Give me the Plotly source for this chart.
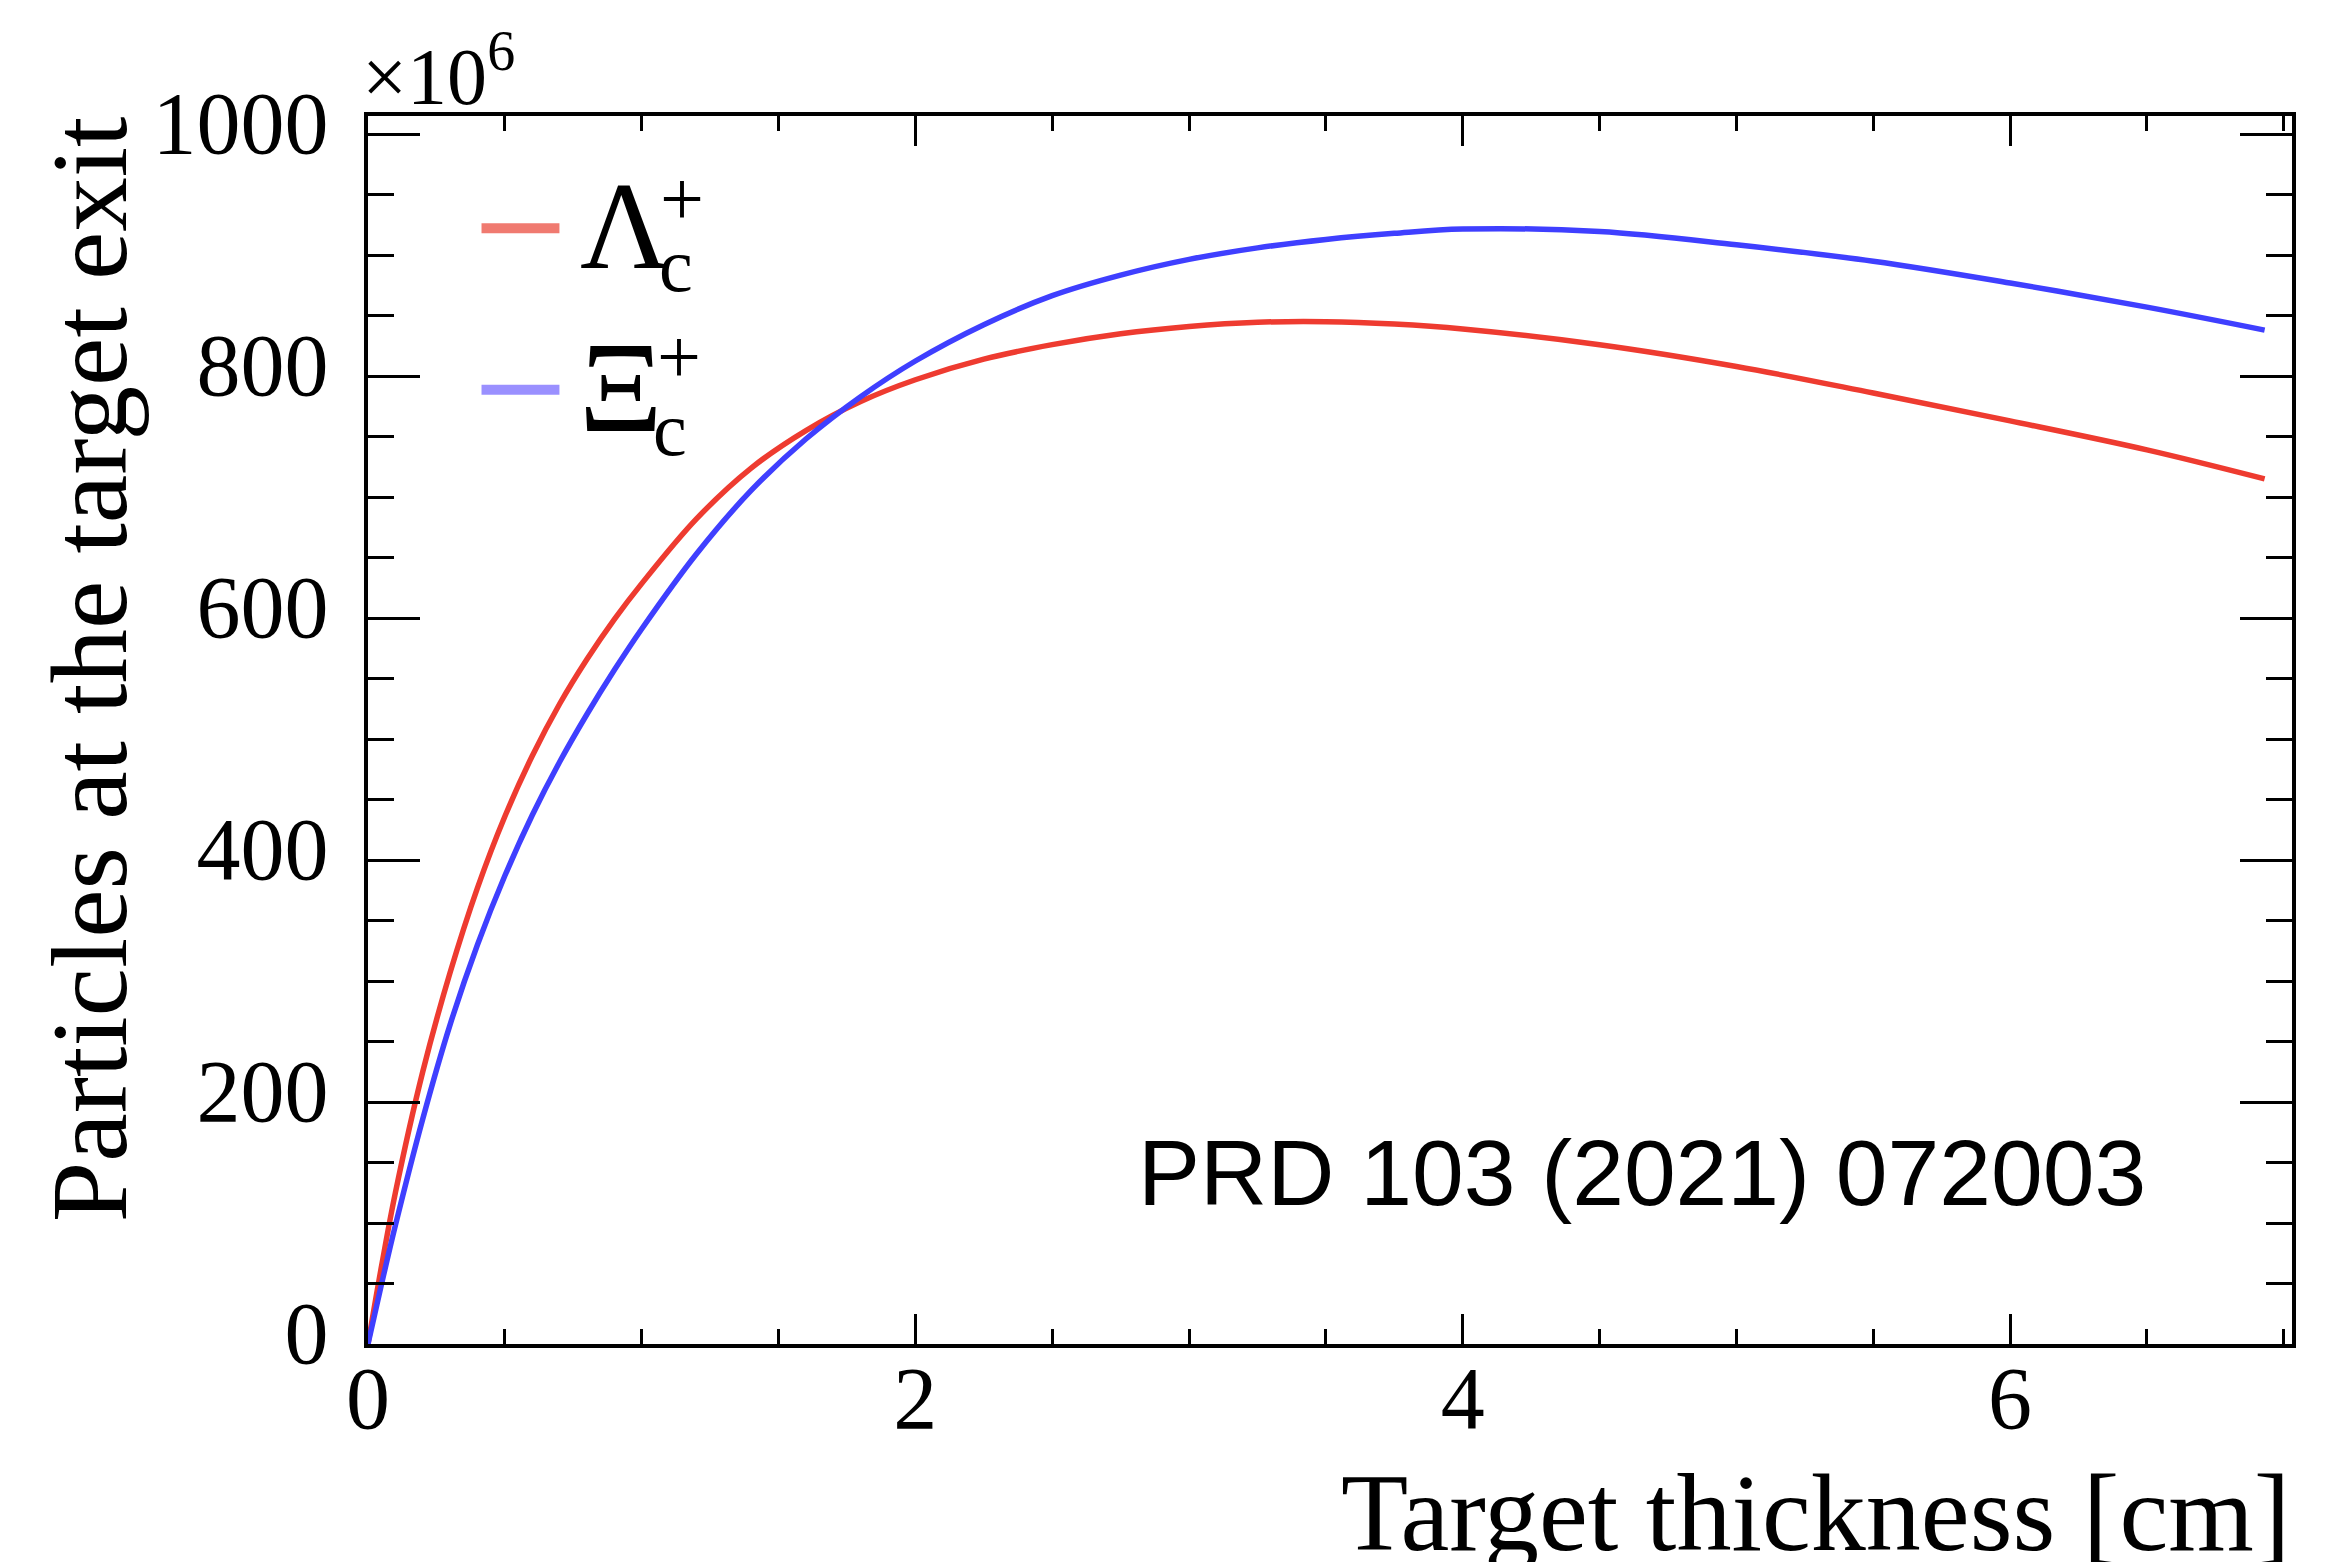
import plotly.graph_objects as go

# ---- data ----
thickness = [0, 0.05, 0.1, 0.2, 0.3, 0.4, 0.5, 0.6, 0.7, 0.8, 0.9, 1.0, 1.2, 1.4, 1.6,
             1.8, 2.0, 2.25, 2.5, 2.75, 3.0, 3.25, 3.5, 3.75, 4.0, 4.5, 5.0, 5.5, 6.0,
             6.5, 6.93]
lambda_c = [0, 65, 125, 225, 307, 377, 436, 486, 529, 566, 599, 628.5, 682, 724, 755,
            779, 797, 814, 826, 835, 841, 844.5, 845, 843, 839, 826, 808, 786,
            763, 739, 715]
xi_c = [0, 50, 98, 186, 264, 330, 387, 437, 481, 520.5, 557, 591, 653, 705.5, 748,
        783, 812.5, 842.5, 866.5, 883.5, 896.5, 906, 913, 918, 921.5, 919.5, 908.5,
        895, 877, 857, 838]

x_ticks = [0, 2, 4, 6]
y_ticks = [0, 200, 400, 600, 800, 1000]

RED = "#ee3b30"
BLUE = "#3f3fff"
SERIF = "Liberation Serif"

fig = go.Figure()
fig.add_trace(go.Scatter(x=thickness, y=lambda_c, mode="lines", name="Λc+",
                         line=dict(color=RED, width=5.5, shape="spline", smoothing=1.0),
                         showlegend=False))
fig.add_trace(go.Scatter(x=thickness, y=xi_c, mode="lines", name="Ξc+",
                         line=dict(color=BLUE, width=5.5, shape="spline", smoothing=1.0),
                         showlegend=False))

axis_common = dict(showline=True, linecolor="black", linewidth=4, mirror="allticks",
                   ticks="inside", tickcolor="black", tickwidth=3, showgrid=False,
                   zeroline=False,
                   tickfont=dict(family=SERIF, size=88, color="black"))

fig.update_xaxes(range=[0, 7.03], tickvals=x_ticks, ticklen=30,
                 ticklabelstandoff=-26,
                 minor=dict(dtick=0.5, ticks="inside", ticklen=15, tickwidth=3,
                            tickcolor="black", showgrid=False),
                 **axis_common)
fig.update_yaxes(range=[0, 1015], tickvals=y_ticks, ticklen=52,
                 ticklabelstandoff=18, ticklabelshift=-12,
                 minor=dict(dtick=50, ticks="inside", ticklen=26, tickwidth=3,
                            tickcolor="black", showgrid=False),
                 **axis_common)

annotations = [
    # y-axis title
    dict(text="Particles at the target exit", xref="paper", yref="paper",
         x=-0.1447, y=1.001, xanchor="center", yanchor="top", textangle=-90,
         showarrow=False, font=dict(family=SERIF, size=109, color="black")),
    # x-axis title
    dict(text="Target thickness [cm]", xref="paper", yref="paper",
         x=1.0, y=-0.1376, xanchor="right", yanchor="middle",
         showarrow=False, font=dict(family=SERIF, size=110, color="black")),
    # exponent
    dict(text="×10<sup>6</sup>", xref="paper", yref="paper",
         x=-0.004, y=0.994, xanchor="left", yanchor="bottom",
         showarrow=False, font=dict(family=SERIF, size=80, color="black")),
    # citation
    dict(text="PRD 103 (2021) 072003", xref="paper", yref="paper",
         x=0.399, y=0.139, xanchor="left", yanchor="middle",
         showarrow=False, font=dict(family="Liberation Sans", size=93, color="black")),
    # legend labels
    dict(text="Λ", xref="paper", yref="paper", x=0.1090, y=0.9100,
         xanchor="left", yanchor="middle", showarrow=False,
         font=dict(family=SERIF, size=124, color="black")),
    dict(text="+", xref="paper", yref="paper", x=0.1505, y=0.9330,
         xanchor="left", yanchor="middle", showarrow=False,
         font=dict(family=SERIF, size=78, color="black")),
    dict(text="c", xref="paper", yref="paper", x=0.1500, y=0.8790,
         xanchor="left", yanchor="middle", showarrow=False,
         font=dict(family=SERIF, size=76, color="black")),
    dict(text="Ξ", xref="paper", yref="paper", x=0.1085, y=0.7790,
         xanchor="left", yanchor="middle", showarrow=False,
         font=dict(family=SERIF, size=130, color="black")),
    dict(text="+", xref="paper", yref="paper", x=0.1490, y=0.8045,
         xanchor="left", yanchor="middle", showarrow=False,
         font=dict(family=SERIF, size=78, color="black")),
    dict(text="c", xref="paper", yref="paper", x=0.1471, y=0.7450,
         xanchor="left", yanchor="middle", showarrow=False,
         font=dict(family=SERIF, size=76, color="black")),
]

shapes = [
    dict(type="line", xref="paper", yref="paper", x0=0.0590, x1=0.0995,
         y0=0.9085, y1=0.9085, line=dict(color="#f07a70", width=10)),
    dict(type="line", xref="paper", yref="paper", x0=0.0590, x1=0.0995,
         y0=0.7770, y1=0.7770, line=dict(color="#9a90ff", width=10)),
]

fig.update_layout(width=2341, height=1562, autosize=False,
                  margin=dict(l=360, r=57, t=108, b=226, pad=0),
                  paper_bgcolor="white", plot_bgcolor="white",
                  annotations=annotations, shapes=shapes, showlegend=False)

fig.write_html("out.html")
